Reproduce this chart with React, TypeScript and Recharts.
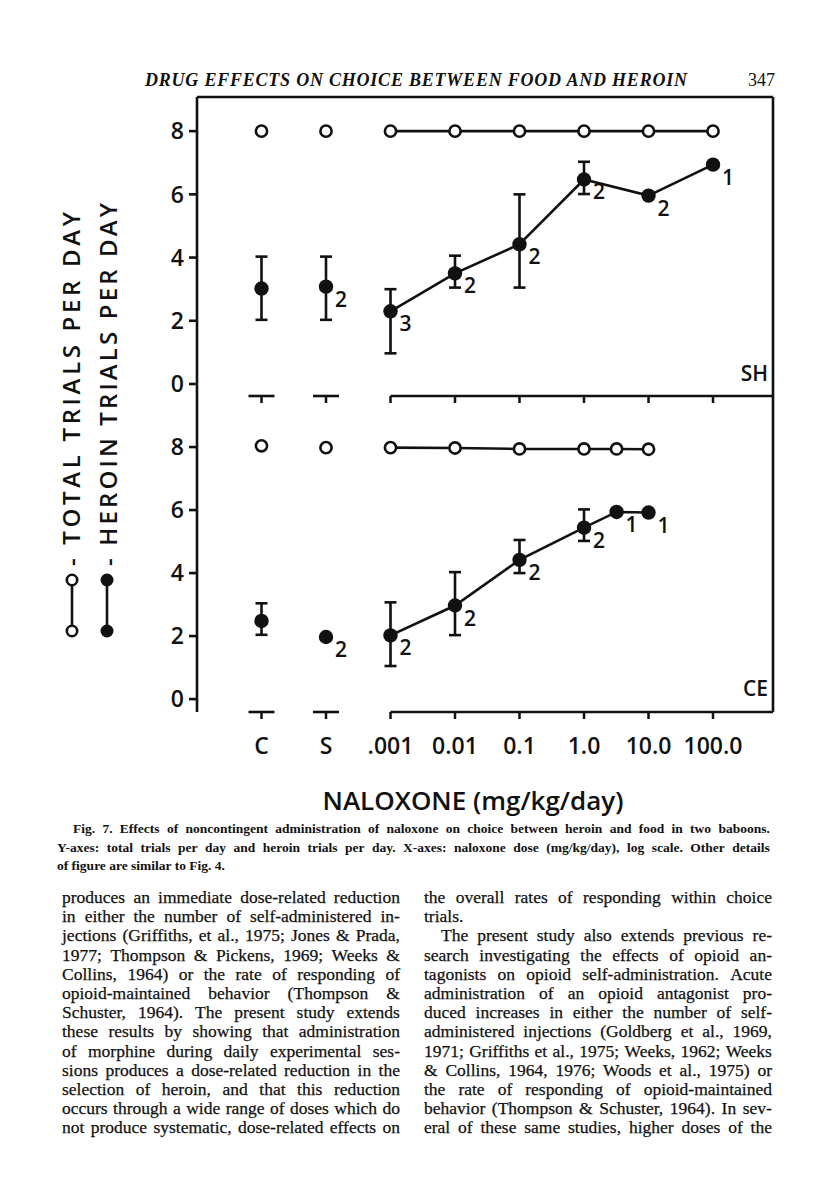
import React from 'react';
import { ComposedChart, Scatter, XAxis, YAxis, ErrorBar, ReferenceLine } from 'recharts';

// ---------------- data ----------------
const CONTROL_LABELS = ['C', 'S'];
const DOSE_LABELS = ['.001', '0.01', '0.1', '1.0', '10.0', '100.0'];
const DOSE_TICKS = [0.001, 0.01, 0.1, 1, 10, 100];
const Y_TICKS = [0, 2, 4, 6, 8];

// Baboon SH
const SH_TOTAL_CONTROL = [8, 8];
const SH_TOTAL_DOSES = [0.001, 0.01, 0.1, 1, 10, 100];
const SH_TOTAL_VALUES = [8, 8, 8, 8, 8, 8];
const SH_HEROIN_CONTROL = [3.02, 3.08];
const SH_HEROIN_CONTROL_LOW = [2.03, 2.03];
const SH_HEROIN_CONTROL_HIGH = [4.03, 4.03];
const SH_HEROIN_CONTROL_N = ['', '2'];
const SH_HEROIN_DOSES = [0.001, 0.01, 0.1, 1, 10, 100];
const SH_HEROIN_VALUES = [2.3, 3.5, 4.42, 6.47, 5.96, 6.94];
const SH_HEROIN_LOW = [0.97, 3.05, 3.05, 6.01, 5.96, 6.94];
const SH_HEROIN_HIGH = [3.0, 4.06, 6.0, 7.03, 5.96, 6.94];
const SH_HEROIN_N = ['3', '2', '2', '2', '2', '1'];

// Baboon CE
const CE_TOTAL_CONTROL = [8.04, 7.98];
const CE_TOTAL_DOSES = [0.001, 0.01, 0.1, 1, 3.2, 10];
const CE_TOTAL_VALUES = [7.98, 7.97, 7.94, 7.94, 7.94, 7.93];
const CE_HEROIN_CONTROL = [2.48, 1.97];
const CE_HEROIN_CONTROL_LOW = [2.04, 1.97];
const CE_HEROIN_CONTROL_HIGH = [3.04, 1.97];
const CE_HEROIN_CONTROL_N = ['', '2'];
const CE_HEROIN_DOSES = [0.001, 0.01, 0.1, 1, 3.2, 10];
const CE_HEROIN_VALUES = [2.02, 2.97, 4.42, 5.44, 5.94, 5.92];
const CE_HEROIN_LOW = [1.05, 2.03, 4.0, 5.02, 5.94, 5.92];
const CE_HEROIN_HIGH = [3.07, 4.03, 5.05, 6.02, 5.94, 5.92];
const CE_HEROIN_N = ['2', '2', '2', '2', '1', '1'];

const HEADER = 'DRUG EFFECTS ON CHOICE BETWEEN FOOD AND HEROIN';
const PAGE_NO = '347';
const X_TITLE = 'NALOXONE (mg/kg/day)';
const LEGEND_TOTAL = '- TOTAL TRIALS PER DAY';
const LEGEND_HEROIN = '- HEROIN TRIALS PER DAY';

const CAPTION = [
  'Fig. 7. Effects of noncontingent administration of naloxone on choice between heroin and food in two baboons.',
  'Y-axes: total trials per day and heroin trials per day. X-axes: naloxone dose (mg/kg/day), log scale. Other details',
  'of figure are similar to Fig. 4.',
];

const BODY_LEFT = [
  'produces an immediate dose-related reduction',
  'in either the number of self-administered in-',
  'jections (Griffiths, et al., 1975; Jones & Prada,',
  '1977; Thompson & Pickens, 1969; Weeks &',
  'Collins, 1964) or the rate of responding of',
  'opioid-maintained behavior (Thompson &',
  'Schuster, 1964). The present study extends',
  'these results by showing that administration',
  'of morphine during daily experimental ses-',
  'sions produces a dose-related reduction in the',
  'selection of heroin, and that this reduction',
  'occurs through a wide range of doses which do',
  'not produce systematic, dose-related effects on',
];

const BODY_RIGHT = [
  'the overall rates of responding within choice',
  'trials.',
  'The present study also extends previous re-',
  'search investigating the effects of opioid an-',
  'tagonists on opioid self-administration. Acute',
  'administration of an opioid antagonist pro-',
  'duced increases in either the number of self-',
  'administered injections (Goldberg et al., 1969,',
  '1971; Griffiths et al., 1975; Weeks, 1962; Weeks',
  '& Collins, 1964, 1976; Woods et al., 1975) or',
  'the rate of responding of opioid-maintained',
  'behavior (Thompson & Schuster, 1964). In sev-',
  'eral of these same studies, higher doses of the',
];

// ---------------- helpers ----------------
const INK = '#111';
const SANS = '"Open Sans", "DejaVu Sans", sans-serif';
const SANS_W = 600;
const SERIF = '"Liberation Serif", "DejaVu Serif", serif';

const FIRST_LOG = Math.log10(DOSE_TICKS[0]);
const controlX = (i: number) => FIRST_LOG - (CONTROL_LABELS.length - i);
const X_TICKS = [...CONTROL_LABELS.map((_, i) => controlX(i)), ...DOSE_TICKS.map((d) => Math.log10(d))];
const X_LABELS = [...CONTROL_LABELS, ...DOSE_LABELS];
const X_DOMAIN: [number, number] = [-6, 2.93];
const SH_Y_DOMAIN: [number, number] = [-0.38, 9.08];
const CE_Y_DOMAIN: [number, number] = [-0.41, 9.62];

type Row = { x: number; y: number; err: [number, number]; n: string };

const rows = (xs: number[], ys: number[], lows?: number[], highs?: number[], ns?: string[]): Row[] =>
  ys.map((y, i) => ({
    x: xs[i],
    y,
    err: lows && highs ? [y - lows[i], highs[i] - y] : [0, 0],
    n: ns ? ns[i] : '',
  }));

const ctrlXs = CONTROL_LABELS.map((_, i) => controlX(i));
const logs = (d: number[]) => d.map((v) => Math.log10(v));

const shTotalControl = rows(ctrlXs, SH_TOTAL_CONTROL);
const shTotalDose = rows(logs(SH_TOTAL_DOSES), SH_TOTAL_VALUES);
const shHeroinControl = rows(ctrlXs, SH_HEROIN_CONTROL, SH_HEROIN_CONTROL_LOW, SH_HEROIN_CONTROL_HIGH, SH_HEROIN_CONTROL_N);
const shHeroinDose = rows(logs(SH_HEROIN_DOSES), SH_HEROIN_VALUES, SH_HEROIN_LOW, SH_HEROIN_HIGH, SH_HEROIN_N);

const ceTotalControl = rows(ctrlXs, CE_TOTAL_CONTROL);
const ceTotalDose = rows(logs(CE_TOTAL_DOSES), CE_TOTAL_VALUES);
const ceHeroinControl = rows(ctrlXs, CE_HEROIN_CONTROL, CE_HEROIN_CONTROL_LOW, CE_HEROIN_CONTROL_HIGH, CE_HEROIN_CONTROL_N);
const ceHeroinDose = rows(logs(CE_HEROIN_DOSES), CE_HEROIN_VALUES, CE_HEROIN_LOW, CE_HEROIN_HIGH, CE_HEROIN_N);

const OpenDot = (p: any) =>
  p.cx == null ? <g /> : <circle cx={p.cx} cy={p.cy} r={5.6} fill="#fff" stroke={INK} strokeWidth={2.6} />;

const FilledDot = (p: any) =>
  p.cx == null ? (
    <g />
  ) : (
    <g>
      <circle cx={p.cx} cy={p.cy} r={7.2} fill={INK} />
      {p.payload && p.payload.n ? (
        <text x={p.cx + 9} y={p.cy + 20} fontSize={21} fontWeight={SANS_W} fontFamily={SANS} fill={INK}>
          {p.payload.n}
        </text>
      ) : null}
    </g>
  );

const makeXTick = (showLabel: boolean) => (props: any) => {
  const { x, y, index } = props;
  const isControl = index < CONTROL_LABELS.length;
  return (
    <g>
      {isControl ? <line x1={x - 13} x2={x + 13} y1={y} y2={y} stroke={INK} strokeWidth={2.6} /> : null}
      <line x1={x} x2={x} y1={y} y2={y + 7} stroke={INK} strokeWidth={2.5} />
      {showLabel ? (
        <text x={x} y={y + 42} textAnchor="middle" fontSize={23} fontWeight={SANS_W} fontFamily={SANS} fill={INK}>
          {X_LABELS[index]}
        </text>
      ) : null}
    </g>
  );
};

function XTitleLabel(props: any) {
  const vb = props.viewBox || { x: 197, y: 712, width: 576, height: 100 };
  return (
    <text
      x={vb.x + vb.width / 2 - 12}
      y={vb.y + 98}
      textAnchor="middle"
      fontSize={26}
      fontWeight={SANS_W}
      fontFamily={SANS}
      fill={INK}
    >
      {X_TITLE}
    </text>
  );
}

const lineStyle = { stroke: INK, strokeWidth: 2.6 };

function Panel(props: {
  height: number;
  margin: { top: number; right: number; bottom: number; left: number };
  xAxisHeight: number;
  yDomain: [number, number];
  showLabels: boolean;
  drawTop: boolean;
  totalControl: Row[];
  totalDose: Row[];
  heroinControl: Row[];
  heroinDose: Row[];
}) {
  const { yDomain } = props;
  return (
    <ComposedChart width={816} height={props.height} margin={props.margin}>
      <XAxis
        type="number"
        dataKey="x"
        domain={X_DOMAIN}
        ticks={X_TICKS}
        interval={0}
        allowDataOverflow
        axisLine={false}
        tickLine={false}
        tickSize={0}
        tickMargin={0}
        height={props.xAxisHeight}
        tick={makeXTick(props.showLabels)}
        label={props.showLabels ? <XTitleLabel /> : undefined}
      />
      <YAxis
        type="number"
        dataKey="y"
        domain={yDomain}
        ticks={Y_TICKS}
        interval={0}
        allowDataOverflow
        width={60}
        tickSize={8}
        tickMargin={5}
        axisLine={{ stroke: INK, strokeWidth: 2.6 }}
        tickLine={{ stroke: INK, strokeWidth: 2.6 }}
        tick={{ fill: INK, fontSize: 23, fontWeight: SANS_W, fontFamily: SANS }}
      />
      {props.drawTop ? <ReferenceLine y={yDomain[1]} stroke={INK} strokeWidth={2.6} ifOverflow="visible" /> : null}
      <ReferenceLine x={X_DOMAIN[1]} stroke={INK} strokeWidth={2.6} ifOverflow="visible" />
      <ReferenceLine
        segment={[
          { x: FIRST_LOG, y: yDomain[0] },
          { x: X_DOMAIN[1], y: yDomain[0] },
        ]}
        stroke={INK}
        strokeWidth={2.6}
        ifOverflow="visible"
      />
      <Scatter data={props.totalControl} dataKey="y" shape={OpenDot} isAnimationActive={false} />
      <Scatter
        data={props.totalDose}
        dataKey="y"
        shape={OpenDot}
        line={lineStyle}
        lineType="joint"
        isAnimationActive={false}
      />
      <Scatter data={props.heroinControl} dataKey="y" shape={FilledDot} isAnimationActive={false}>
        <ErrorBar dataKey="err" direction="y" width={6} stroke={INK} strokeWidth={2.6} isAnimationActive={false} />
      </Scatter>
      <Scatter
        data={props.heroinDose}
        dataKey="y"
        shape={FilledDot}
        line={lineStyle}
        lineType="joint"
        isAnimationActive={false}
      >
        <ErrorBar dataKey="err" direction="y" width={6} stroke={INK} strokeWidth={2.6} isAnimationActive={false} />
      </Scatter>
    </ComposedChart>
  );
}

function JLine(props: { text: string; left: number; top: number; width: number; justify: boolean; indent?: number }) {
  const indent = props.indent || 0;
  const base: React.CSSProperties = {
    position: 'absolute',
    left: props.left + indent,
    top: props.top,
    width: props.width - indent,
    whiteSpace: 'nowrap',
  };
  if (!props.justify) return <div style={base}>{props.text}</div>;
  const words = props.text.split(' ');
  return (
    <div style={{ ...base, display: 'flex', justifyContent: 'space-between' }}>
      {words.map((w, i) => (
        <span key={i}>{w}</span>
      ))}
    </div>
  );
}

export default function App() {
  const bodyTop = 888;
  const bodyLH = 19.2;
  return (
    <div
      style={{
        position: 'absolute',
        left: 0,
        top: 0,
        width: 816,
        height: 1200,
        background: '#fff',
        color: INK,
        overflow: 'hidden',
      }}
    >
      {/* running head */}
      <svg style={{ position: 'absolute', left: 0, top: 0 }} width={816} height={100}>
        <text
          x={145}
          y={86}
          fontFamily={SERIF}
          fontStyle="italic"
          fontWeight="bold"
          fontSize={18}
          textLength={542}
          lengthAdjust="spacing"
          fill={INK}
        >
          {HEADER}
        </text>
        <text x={775} y={86} textAnchor="end" fontFamily={SERIF} fontSize={18} fill={INK}>
          {PAGE_NO}
        </text>
      </svg>

      {/* top panel: SH */}
      <div style={{ position: 'absolute', left: 0, top: 0 }}>
        <Panel
          height={430}
          margin={{ top: 97, right: 43, bottom: 4, left: 137 }}
          xAxisHeight={30}
          yDomain={SH_Y_DOMAIN}
          showLabels={false}
          drawTop={true}
          totalControl={shTotalControl}
          totalDose={shTotalDose}
          heroinControl={shHeroinControl}
          heroinDose={shHeroinDose}
        />
      </div>

      {/* bottom panel: CE */}
      <div style={{ position: 'absolute', left: 0, top: 0 }}>
        <Panel
          height={830}
          margin={{ top: 396, right: 43, bottom: 18, left: 137 }}
          xAxisHeight={100}
          yDomain={CE_Y_DOMAIN}
          showLabels={true}
          drawTop={false}
          totalControl={ceTotalControl}
          totalDose={ceTotalDose}
          heroinControl={ceHeroinControl}
          heroinDose={ceHeroinDose}
        />
      </div>

      {/* panel names */}
      <div
        style={{
          position: 'absolute',
          left: 720,
          top: 360,
          width: 48,
          textAlign: 'right',
          fontFamily: SANS,
          fontWeight: SANS_W,
          fontSize: 21,
          lineHeight: '26px',
        }}
      >
        SH
      </div>
      <div
        style={{
          position: 'absolute',
          left: 720,
          top: 675,
          width: 48,
          textAlign: 'right',
          fontFamily: SANS,
          fontWeight: SANS_W,
          fontSize: 21,
          lineHeight: '26px',
        }}
      >
        CE
      </div>

      {/* y-axis legend / titles */}
      <svg style={{ position: 'absolute', left: 0, top: 0 }} width={140} height={700}>
        <text
          x={80}
          y={566}
          transform="rotate(-90 80 566)"
          fontFamily={SANS}
          fontWeight={SANS_W}
          fontSize={24}
          textLength={354}
          lengthAdjust="spacing"
          fill={INK}
        >
          {LEGEND_TOTAL}
        </text>
        <line x1={72} x2={72} y1={580} y2={631} stroke={INK} strokeWidth={2.6} />
        <circle cx={72} cy={580} r={5.2} fill="#fff" stroke={INK} strokeWidth={2.6} />
        <circle cx={72} cy={631} r={5.2} fill="#fff" stroke={INK} strokeWidth={2.6} />
        <text
          x={117}
          y={566}
          transform="rotate(-90 117 566)"
          fontFamily={SANS}
          fontWeight={SANS_W}
          fontSize={24}
          textLength={363}
          lengthAdjust="spacing"
          fill={INK}
        >
          {LEGEND_HEROIN}
        </text>
        <line x1={107} x2={107} y1={580} y2={631} stroke={INK} strokeWidth={2.6} />
        <circle cx={107} cy={580} r={6.5} fill={INK} />
        <circle cx={107} cy={631} r={6.5} fill={INK} />
      </svg>

      {/* caption */}
      <div style={{ fontFamily: SERIF, fontSize: 13.5, fontWeight: 'bold', lineHeight: '18px' }}>
        {CAPTION.map((t, i) => (
          <JLine
            key={i}
            text={t}
            left={57}
            top={820 + i * 18.5}
            width={713}
            indent={i === 0 ? 16 : 0}
            justify={i < CAPTION.length - 1}
          />
        ))}
      </div>

      {/* body text */}
      <div
        style={{
          fontFamily: SERIF,
          fontSize: 17.5,
          lineHeight: `${bodyLH}px`,
          WebkitTextStroke: '0.25px #111',
        }}
      >
        {BODY_LEFT.map((t, i) => (
          <JLine key={'l' + i} text={t} left={62} top={bodyTop + i * bodyLH} width={338} justify={true} />
        ))}
        {BODY_RIGHT.map((t, i) => (
          <JLine
            key={'r' + i}
            text={t}
            left={424}
            top={bodyTop + i * bodyLH}
            width={348}
            indent={i === 2 ? 17 : 0}
            justify={i !== 1}
          />
        ))}
      </div>
    </div>
  );
}
